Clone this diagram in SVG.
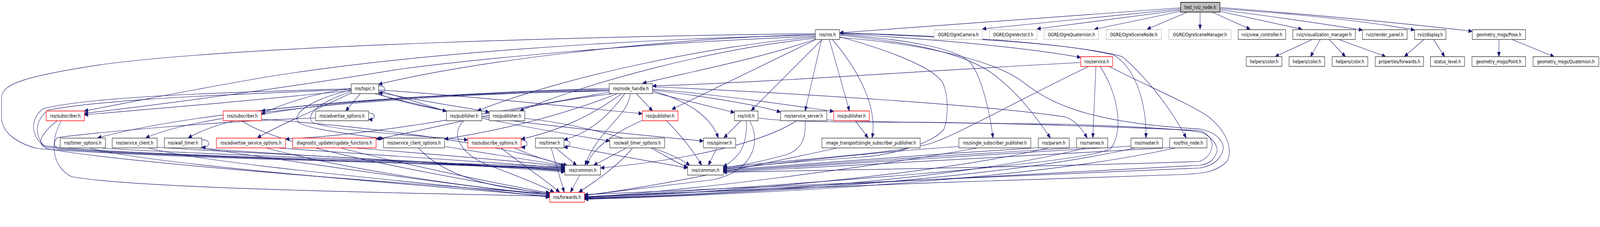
<svg xmlns="http://www.w3.org/2000/svg" width="5161" height="581" viewBox="0 0 5161 581" preserveAspectRatio="none">
<style>
svg{width:100vw;height:100vh}
.n rect{fill:#fff;stroke:#404040;stroke-width:1.5}
.n.r rect{stroke:#ff0000}
.n.g rect{stroke:#bfbfbf}
.n.root rect{fill:#bfbfbf;stroke:#000}
text{font-family:"DejaVu Sans","Liberation Sans",sans-serif;font-size:12.5px;text-anchor:middle;fill:#000}
#edges path{fill:none;stroke:#191970;stroke-width:1.2;marker-end:url(#a)}
</style>
<defs>
<marker id="a" markerUnits="userSpaceOnUse" markerWidth="12" markerHeight="10" refX="12" refY="5" orient="auto"><path d="M0,0 L12,5 L0,10 z" fill="#191970" stroke="#191970"/></marker>
</defs>
<rect width="5161" height="581" fill="#fff"/>
<g id="edges">
<path d="M3808,20 L2708,84"/>
<path d="M3808,23 L3169,74"/>
<path d="M3808,26 L3345,74"/>
<path d="M3808,29 L3530,75"/>
<path d="M3830,31 L3700,75"/>
<path d="M3871,31 L3871,75"/>
<path d="M3910,31 L4033,75"/>
<path d="M3935,29 L4200,75"/>
<path d="M3935,25 Q4200,52 4395,77"/>
<path d="M3935,22 Q4350,45 4563,77"/>
<path d="M3935,19 Q4400,48 4749,80"/>
<path d="M4233,101 L4113,145"/>
<path d="M4259,101 L4227,145"/>
<path d="M4287,101 L4340,145"/>
<path d="M4318,101 L4470,145"/>
<path d="M4593,101 L4530,145"/>
<path d="M4624,101 L4660,145"/>
<path d="M4835,101 L4835,145"/>
<path d="M4877,101 L5013,145"/>
<path d="M2630,88 C2100,100 1500,160 1221,216"/>
<path d="M2630,86 C2000,92 800,115 330,165 C80,195 5,215 5,250 L5,300 C5,345 70,370 120,380 C500,405 1500,420 1822,430"/>
<path d="M2630,90 C2000,100 1300,140 860,197 C600,232 400,265 272,284"/>
<path d="M2630,93 C2100,108 1550,150 1290,177 C1000,215 600,260 272,290"/>
<path d="M2632,100 C2450,150 2250,180 2073,213"/>
<path d="M2630,95 C2300,115 1800,200 1540,284"/>
<path d="M2630,98 C2300,125 1900,210 1677,284"/>
<path d="M2632,101 L2167,280"/>
<path d="M2652,101 L2423,283"/>
<path d="M2650,101 L2597,284"/>
<path d="M2675,101 L2740,284"/>
<path d="M2685,101 C2780,190 2830,280 2813,353"/>
<path d="M2708,94 C2850,125 2990,165 3035,205 C3060,230 3060,300 3045,330 C3020,360 2900,395 2780,402 C2600,412 2400,426 2333,432"/>
<path d="M2708,88 C2900,100 3080,120 3130,160 C3170,200 3195,300 3203,353"/>
<path d="M2708,90 C2900,105 3120,130 3220,200 C3300,250 3360,320 3388,353"/>
<path d="M2708,86 C3000,100 3300,120 3486,147"/>
<path d="M2708,84 C3200,95 3450,115 3590,140 C3670,175 3700,280 3696,353"/>
<path d="M2708,85 C3200,97 3500,118 3620,145 C3700,200 3780,280 3826,353"/>
<path d="M2708,96 C2950,110 3200,150 3300,210 C3380,260 3500,315 3870,330 C3930,340 3950,365 3945,385 C3935,410 3910,425 3870,430 C3500,440 2700,470 1885,498"/>
<path d="M3486,160 C3000,180 2500,210 2105,220"/>
<path d="M3535,170 L3525,353"/>
<path d="M3512,170 C3300,250 3100,340 3010,365 C2900,395 2500,410 2333,430"/>
<path d="M3548,170 C3600,230 3630,330 3583,380 C3500,420 2600,470 1885,506"/>
<path d="M3577,170 C3700,220 3850,270 3900,300 C3960,340 3975,380 3960,410 C3930,440 3880,445 3800,447 C3200,460 2300,490 1885,503"/>
<path d="M1965,226 C1600,235 1100,255 843,284"/>
<path d="M1965,229 C1500,236 700,270 315,353"/>
<path d="M1965,231 C1500,240 700,272 470,353"/>
<path d="M1965,233 C1400,240 800,262 607,353"/>
<path d="M1965,236 C1500,300 1200,345 921,356"/>
<path d="M1975,240 C1700,265 1400,330 1213,356"/>
<path d="M1990,240 C1800,300 1600,335 1434,356"/>
<path d="M2005,240 C1900,300 1800,335 1681,356"/>
<path d="M2015,240 C1960,300 1900,340 1819,358"/>
<path d="M2033,240 C2025,300 1930,330 1887,423"/>
<path d="M2053,240 L2105,284"/>
<path d="M2105,232 C2200,255 2290,290 2317,353"/>
<path d="M2105,236 C2200,255 2300,275 2369,288"/>
<path d="M2105,230 C2300,250 2450,270 2518,287"/>
<path d="M2105,228 C2350,245 2550,270 2689,285"/>
<path d="M2105,222 C2600,240 3200,270 3440,300 C3470,310 3490,330 3507,353"/>
<path d="M1162,240 L1115,284"/>
<path d="M1221,220 C1247,218 1249,238 1221,238"/>
<path d="M1133,232 C900,250 500,280 272,294"/>
<path d="M1133,226 C1000,240 900,270 843,292"/>
<path d="M1221,232 C1300,250 1380,270 1440,285"/>
<path d="M1221,236 C1350,258 1500,275 1578,287"/>
<path d="M1221,230 C1500,245 1800,270 2072,291"/>
<path d="M1221,240 C1400,300 2000,340 2269,361"/>
<path d="M1210,240 C1500,300 1800,340 1967,361"/>
<path d="M1133,230 C1000,255 945,290 960,310 C975,330 1150,345 1237,355"/>
<path d="M1133,234 C1030,262 990,290 1005,310 C1020,330 1300,345 1509,358"/>
<path d="M1133,238 C1050,270 900,320 830,353"/>
<path d="M1133,227 C800,235 300,245 140,278 C100,300 95,345 140,372 C300,395 1500,418 1822,427"/>
<path d="M1133,229 C800,240 350,252 155,282 C110,310 110,350 150,380 C400,420 1500,480 1773,496"/>
<path d="M1189,289 C1212,289 1215,306 1189,306"/>
<path d="M1018,302 C700,310 300,340 185,352 C170,365 175,378 190,382 C500,400 1500,420 1822,432"/>
<path d="M185,309 C150,330 115,360 140,375 C250,392 1400,418 1822,434"/>
<path d="M198,309 C160,360 165,425 230,452 C450,485 1500,497 1773,502"/>
<path d="M843,305 C1300,330 1700,385 1822,425"/>
<path d="M780,309 C900,380 1500,460 1773,498"/>
<path d="M330,379 C600,395 1500,415 1822,436"/>
<path d="M290,379 C500,425 1500,482 1773,503"/>
<path d="M507,377 C800,393 1500,415 1822,438"/>
<path d="M480,379 C700,425 1500,475 1773,505"/>
<path d="M651,358 C680,356 682,378 651,377"/>
<path d="M645,379 C900,396 1500,420 1822,440"/>
<path d="M651,379 C1000,420 1500,478 1773,500"/>
<path d="M900,379 C1200,395 1600,418 1822,429"/>
<path d="M860,379 C1100,430 1500,480 1773,497"/>
<path d="M1100,379 C1300,420 1600,470 1773,494"/>
<path d="M1150,379 C1400,395 1700,415 1822,426"/>
<path d="M1434,375 C1600,395 1750,415 1822,424"/>
<path d="M1350,379 C1420,440 1550,480 1775,494"/>
<path d="M1681,359 C1705,358 1708,377 1681,377"/>
<path d="M1660,379 C1720,400 1780,415 1830,423"/>
<path d="M1617,379 C1680,420 1760,460 1805,492"/>
<path d="M1497,309 C1450,340 1480,400 1600,430 C1700,460 1760,480 1787,492"/>
<path d="M1693,303 C1900,320 2150,380 2225,423"/>
<path d="M2150,309 C2200,350 2240,390 2263,423"/>
<path d="M2072,308 C1980,340 1910,380 1893,423"/>
<path d="M1819,359 C1843,357 1846,377 1819,377"/>
<path d="M1793,379 L1860,423"/>
<path d="M1778,379 L1820,492"/>
<path d="M1819,372 C2000,400 2150,420 2218,430"/>
<path d="M1870,448 L1840,492"/>
<path d="M2020,379 L1915,423"/>
<path d="M2040,379 C2000,420 1920,465 1867,492"/>
<path d="M2100,379 C2150,400 2190,420 2218,428"/>
<path d="M2312,379 L2285,423"/>
<path d="M2390,309 L2335,353"/>
<path d="M2408,309 C2410,370 2390,400 2333,427"/>
<path d="M2418,309 C2460,370 2420,440 2300,460 C2100,480 1950,495 1885,500"/>
<path d="M2445,302 C2520,310 2600,313 3000,313 C3300,316 3600,325 3870,334 C3895,340 3912,360 3910,372 C3908,390 3895,405 3870,413 C3500,425 2700,435 2333,441"/>
<path d="M2597,309 C2600,350 2590,380 2540,395 C2450,415 2380,425 2333,429"/>
<path d="M2570,309 C2450,370 2200,410 1937,430"/>
<path d="M2667,307 C2800,313 3200,316 3440,318 C3700,325 3850,333 3880,340 C3915,355 3930,375 3925,390 C3915,410 3900,420 3870,423 C3400,440 2600,480 1885,505"/>
<path d="M2759,309 L2800,353"/>
<path d="M2700,379 C2400,430 2100,480 1885,500"/>
<path d="M3093,375 C2800,390 2500,420 2333,433"/>
<path d="M3150,379 C2800,430 2200,490 1885,505"/>
<path d="M3349,378 C3000,395 2600,420 2333,435"/>
<path d="M3380,379 C3000,450 2300,495 1885,507"/>
<path d="M3472,378 C3100,395 2600,422 2333,437"/>
<path d="M3500,379 C3100,460 2400,495 1885,508"/>
<path d="M3648,374 C3200,395 2600,425 2333,439"/>
<path d="M3660,379 C3200,460 2400,497 1885,509"/>
<path d="M3773,378 C3300,400 2600,428 2333,441"/>
<path d="M3790,379 C3300,465 2400,498 1885,510"/>
</g>
<g id="test_rviz_node" class="n root"><rect x="3808" y="6" width="127" height="25"/><text x="3871.5" y="23">test_rviz_node.h</text></g>
<g id="ros_ros" class="n"><rect x="2630" y="76" width="78" height="25"/><text x="2669" y="93">ros/ros.h</text></g>
<g id="ogre_camera" class="n g"><rect x="3013" y="76" width="156" height="25"/><text x="3091" y="93">OGRE/OgreCamera.h</text></g>
<g id="ogre_vector3" class="n g"><rect x="3192" y="76" width="153" height="25"/><text x="3268.5" y="93">OGRE/OgreVector3.h</text></g>
<g id="ogre_quaternion" class="n g"><rect x="3368" y="76" width="176" height="25"/><text x="3456" y="93">OGRE/OgreQuaternion.h</text></g>
<g id="ogre_scenenode" class="n g"><rect x="3568" y="76" width="178" height="25"/><text x="3657" y="93">OGRE/OgreSceneNode.h</text></g>
<g id="ogre_scenemanager" class="n g"><rect x="3770" y="76" width="201" height="25"/><text x="3870.5" y="93">OGRE/OgreSceneManager.h</text></g>
<g id="rviz_view_controller" class="n"><rect x="3994" y="76" width="153" height="25"/><text x="4070.5" y="93">rviz/view_controller.h</text></g>
<g id="rviz_visualization_manager" class="n"><rect x="4170" y="76" width="202" height="25"/><text x="4271" y="93">rviz/visualization_manager.h</text></g>
<g id="rviz_render_panel" class="n"><rect x="4395" y="76" width="144" height="25"/><text x="4467" y="93">rviz/render_panel.h</text></g>
<g id="rviz_display" class="n"><rect x="4563" y="76" width="101" height="25"/><text x="4613.5" y="93">rviz/display.h</text></g>
<g id="geometry_msgs_pose" class="n"><rect x="4749" y="76" width="172" height="25"/><text x="4835" y="93">geometry_msgs/Pose.h</text></g>
<g id="ros_service" class="n r"><rect x="3486" y="145" width="103" height="25"/><text x="3537.5" y="162">ros/service.h</text></g>
<g id="helpers_color_1" class="n"><rect x="4020" y="145" width="115" height="25"/><text x="4077.5" y="162">helpers/color.h</text></g>
<g id="helpers_color_2" class="n"><rect x="4158" y="145" width="115" height="25"/><text x="4215.5" y="162">helpers/color.h</text></g>
<g id="helpers_color_3" class="n"><rect x="4297" y="145" width="115" height="25"/><text x="4354.5" y="162">helpers/color.h</text></g>
<g id="properties_forwards" class="n"><rect x="4436" y="145" width="156" height="25"/><text x="4514" y="162">properties/forwards.h</text></g>
<g id="status_level" class="n"><rect x="4614" y="145" width="110" height="25"/><text x="4669" y="162">status_level.h</text></g>
<g id="geometry_msgs_point" class="n"><rect x="4748" y="145" width="173" height="25"/><text x="4834.5" y="162">geometry_msgs/Point.h</text></g>
<g id="geometry_msgs_quaternion" class="n"><rect x="4945" y="145" width="212" height="25"/><text x="5051" y="162">geometry_msgs/Quaternion.h</text></g>
<g id="ros_topic" class="n"><rect x="1133" y="214.5" width="88" height="25"/><text x="1177" y="231.5">ros/topic.h</text></g>
<g id="ros_node_handle" class="n"><rect x="1965" y="214.5" width="140" height="25"/><text x="2035" y="231.5">ros/node_handle.h</text></g>
<g id="ros_subscriber_1" class="n r"><rect x="149" y="284" width="123" height="25"/><text x="210.5" y="301">ros/subscriber.h</text></g>
<g id="ros_subscriber_2" class="n r"><rect x="720" y="284" width="123" height="25"/><text x="781.5" y="301">ros/subscriber.h</text></g>
<g id="ros_advertise_options" class="n"><rect x="1018" y="284" width="171" height="25"/><text x="1103.5" y="301">ros/advertise_options.h</text></g>
<g id="ros_publisher_1" class="n"><rect x="1440" y="284" width="114" height="25"/><text x="1497" y="301">ros/publisher.h</text></g>
<g id="ros_publisher_2" class="n"><rect x="1578" y="284" width="115" height="25"/><text x="1635.5" y="301">ros/publisher.h</text></g>
<g id="ros_publisher_3" class="n r"><rect x="2072" y="284" width="115" height="25"/><text x="2129.5" y="301">ros/publisher.h</text></g>
<g id="ros_init" class="n"><rect x="2369" y="284" width="76" height="25"/><text x="2407" y="301">ros/init.h</text></g>
<g id="ros_service_server" class="n"><rect x="2518" y="284" width="149" height="25"/><text x="2592.5" y="301">ros/service_server.h</text></g>
<g id="ros_publisher_4" class="n r"><rect x="2689" y="284" width="115" height="25"/><text x="2746.5" y="301">ros/publisher.h</text></g>
<g id="ros_timer_options" class="n"><rect x="194" y="353.5" width="146" height="25"/><text x="267" y="370.5">ros/timer_options.h</text></g>
<g id="ros_service_client" class="n"><rect x="362" y="353.5" width="145" height="25"/><text x="434.5" y="370.5">ros/service_client.h</text></g>
<g id="ros_wall_timer" class="n"><rect x="530" y="353.5" width="121" height="25"/><text x="590.5" y="370.5">ros/wall_timer.h</text></g>
<g id="ros_advertise_service_options" class="n r"><rect x="698" y="353.5" width="223" height="25"/><text x="809.5" y="370.5">ros/advertise_service_options.h</text></g>
<g id="diagnostic_updater_update_functions" class="n r"><rect x="944" y="353.5" width="269" height="25"/><text x="1078.5" y="370.5">diagnostic_updater/update_functions.h</text></g>
<g id="ros_service_client_options" class="n"><rect x="1237" y="353.5" width="197" height="25"/><text x="1335.5" y="370.5">ros/service_client_options.h</text></g>
<g id="ros_subscribe_options" class="n r"><rect x="1509" y="353.5" width="172" height="25"/><text x="1595" y="370.5">ros/subscribe_options.h</text></g>
<g id="ros_timer" class="n"><rect x="1727" y="353.5" width="92" height="25"/><text x="1773" y="370.5">ros/timer.h</text></g>
<g id="ros_wall_timer_options" class="n"><rect x="1967" y="353.5" width="177" height="25"/><text x="2055.5" y="370.5">ros/wall_timer_options.h</text></g>
<g id="ros_spinner" class="n"><rect x="2269" y="353.5" width="104" height="25"/><text x="2321" y="370.5">ros/spinner.h</text></g>
<g id="image_transport_single_subscriber_publisher" class="n"><rect x="2651" y="353.5" width="317" height="25"/><text x="2809.5" y="370.5">image_transport/single_subscriber_publisher.h</text></g>
<g id="ros_single_subscriber_publisher" class="n"><rect x="3093" y="353.5" width="232" height="25"/><text x="3209" y="370.5">ros/single_subscriber_publisher.h</text></g>
<g id="ros_param" class="n"><rect x="3349" y="353.5" width="100" height="25"/><text x="3399" y="370.5">ros/param.h</text></g>
<g id="ros_names" class="n"><rect x="3472" y="353.5" width="101" height="25"/><text x="3522.5" y="370.5">ros/names.h</text></g>
<g id="ros_master" class="n"><rect x="3648" y="353.5" width="102" height="25"/><text x="3699" y="370.5">ros/master.h</text></g>
<g id="ros_this_node" class="n"><rect x="3773" y="353.5" width="120" height="25"/><text x="3833" y="370.5">ros/this_node.h</text></g>
<g id="ros_common_1" class="n"><rect x="1822" y="423" width="115" height="25"/><text x="1879.5" y="440">ros/common.h</text></g>
<g id="ros_common_2" class="n"><rect x="2218" y="423" width="115" height="25"/><text x="2275.5" y="440">ros/common.h</text></g>
<g id="ros_forwards" class="n r"><rect x="1773" y="492.5" width="112" height="25"/><text x="1829" y="509.5">ros/forwards.h</text></g>
</svg>
